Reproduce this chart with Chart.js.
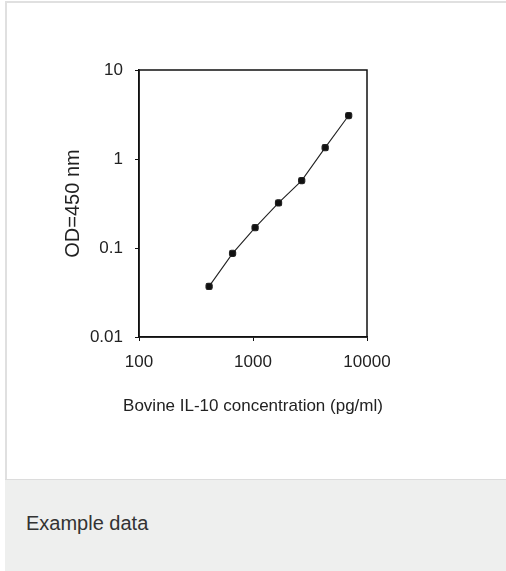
<!DOCTYPE html>
<html>
<head>
<meta charset="utf-8">
<script src="https://cdn.jsdelivr.net/npm/chart.js@4.4.0/dist/chart.umd.min.js"></script>
<style>
  html, body { margin: 0; padding: 0; background: #fff; }
  body { width: 506px; height: 571px; position: relative; overflow: hidden; font-family: "Liberation Sans", Arial, sans-serif; }
  #card { position: absolute; left: 5px; top: 1px; width: 520px; height: 478px; border-left: 2px solid #e0e0e0; border-top: 2px solid #e0e0e0; box-sizing: border-box; }
  #wrap { position: absolute; left: 0; top: 0; width: 506px; height: 479px; }
  #footer { position: absolute; left: 5px; top: 479px; width: 501px; height: 92px; background: #eeefee; border-top: 1px solid #dcdcdc; box-sizing: border-box; }
  #footer span { position: absolute; left: 21px; top: 32px; font-size: 20px; color: #333; }
</style>
</head>
<body>
<div id="card"></div>
<div id="wrap"><canvas id="my"></canvas></div>
<div id="footer"><span>Example data</span></div>
<script>
// Bovine IL-10 standard curve
const concentration = [412, 662, 1043, 1675, 2674, 4295, 6906];
const od450 = [0.037, 0.087, 0.169, 0.321, 0.573, 1.34, 3.08];
const xTickValues = [100, 1000, 10000];
const yTickValues = [0.01, 0.1, 1, 10];

const points = concentration.map((c, i) => ({x: c, y: od450[i]}));

// box around the plot area
const frame = {
  id: 'frame',
  afterDraw(chart) {
    const a = chart.chartArea;
    const c = chart.ctx;
    c.save();
    c.strokeStyle = '#111';
    c.lineWidth = 1.5;
    c.strokeRect(a.left, a.top, a.right - a.left, a.bottom - a.top);
    c.restore();
  }
};

const ctx = document.getElementById('my');

new Chart(ctx, {
  type: 'scatter',
  data: {
    datasets: [{
      data: points,
      showLine: true,
      borderColor: '#222',
      borderWidth: 1.1,
      backgroundColor: '#111',
      pointStyle: 'rectRounded',
      pointRadius: 3.6,
      pointHoverRadius: 3.6
    }]
  },
  options: {
    responsive: true,
    maintainAspectRatio: false,
    animation: false,
    layout: { padding: { left: 60, right: 60, top: 70, bottom: 62.6 } },
    plugins: {
      legend: { display: false },
      tooltip: { enabled: false },
      title: {
        display: true,
        position: 'bottom',
        text: 'Bovine IL-10 concentration (pg/ml)',
        color: '#222',
        font: { family: 'Liberation Sans', size: 17, weight: 'normal' },
        padding: { top: 9, bottom: 0 }
      }
    },
    scales: {
      x: {
        type: 'logarithmic',
        min: 100,
        max: 10000,
        afterBuildTicks: s => { s.ticks = xTickValues.map(v => ({value: v})); },
        afterFit: s => { s.height = 50; },
        grid: { drawOnChartArea: false, color: '#111', tickLength: 4 },
        border: { color: '#111', width: 1.5 },
        ticks: {
          padding: 11,
          color: '#222',
          font: { family: 'Liberation Sans', size: 17 },
          maxRotation: 0,
          callback: v => String(v)
        }
      },
      y: {
        type: 'logarithmic',
        min: 0.01,
        max: 10,
        afterBuildTicks: s => { s.ticks = yTickValues.map(v => ({value: v})); },
        afterFit: s => { s.width = 79; },
        grid: { drawOnChartArea: false, color: '#111', tickLength: 4 },
        border: { color: '#111', width: 1.5 },
        ticks: {
          padding: 12,
          color: '#222',
          font: { family: 'Liberation Sans', size: 17 },
          callback: v => String(v)
        },
        title: {
          display: true,
          text: 'OD=450 nm',
          color: '#222',
          font: { family: 'Liberation Sans', size: 20 },
          padding: { top: 1, bottom: 0 }
        }
      },
      // empty right-hand axis, only to balance the margins
      yRight: {
        type: 'linear',
        position: 'right',
        afterFit: s => { s.width = 79; },
        grid: { display: false },
        border: { display: false },
        ticks: { display: false }
      }
    }
  },
  plugins: [frame]
});
</script>
</body>
</html>
